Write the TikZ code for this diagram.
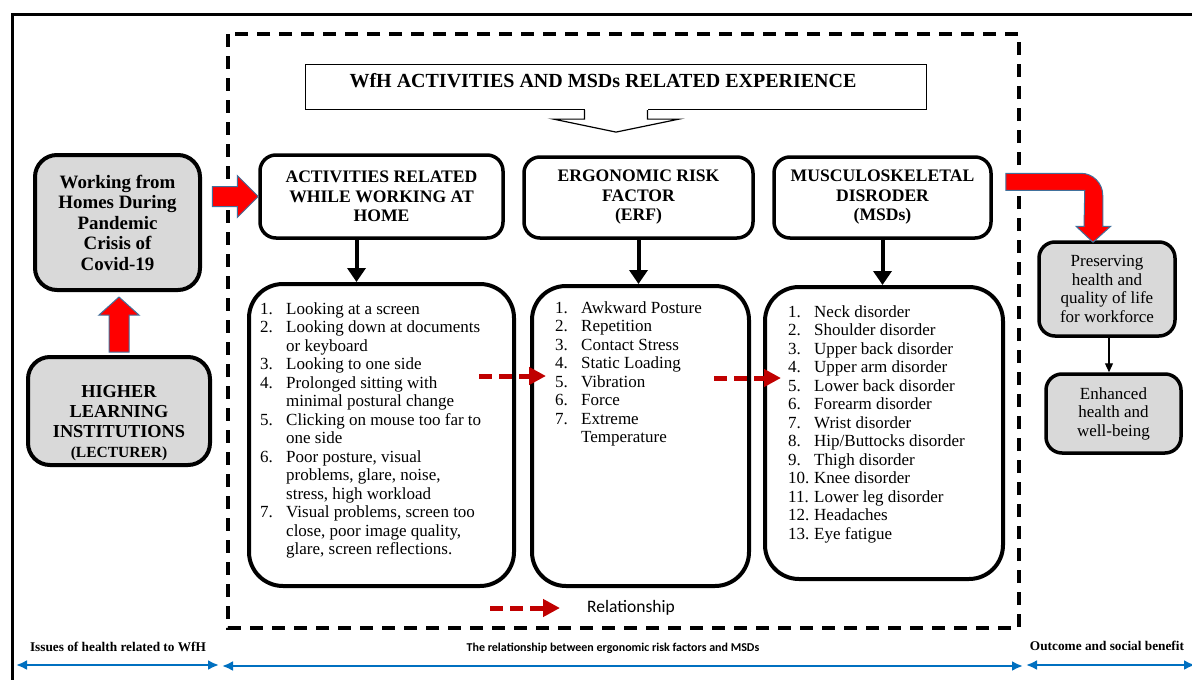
\documentclass[tikz,border=0pt]{standalone}
\usepackage{fontspec}
\setmainfont{Liberation Serif}
\newfontfamily\calibri{Carlito}
\usepackage{tikz}
\usetikzlibrary{arrows.meta}
\usetikzlibrary{calc}
\usetikzlibrary{positioning}

\definecolor{boxgrey}{HTML}{D9D9D9}
\definecolor{arrowedge}{HTML}{41719C}
\definecolor{relred}{HTML}{C00000}
\definecolor{spanblue}{HTML}{0070C0}

\begin{document}
\begin{tikzpicture} [
    x=1pt, y=-1pt,
    head/.style = {draw, line width=3.5pt, rounded corners=16pt, align=center, inner sep=0pt,
        font=\bfseries\fontsize{17.6}{19.5}\selectfont},
    greybox/.style = {draw, fill=boxgrey, line width=4pt, rounded corners=22pt, align=center, inner sep=0pt},
    listbox/.style = {draw, line width=4pt, rounded corners=34pt},
    listtext/.style = {font=\fontsize{17}{18.5}\selectfont, inner sep=0pt},
    bigarrow/.style = {fill=red, draw=arrowedge, line width=1pt, line join=miter},
    down/.style = {line width=4pt, -{Triangle[length=14pt,width=18pt]}},
    relarrow/.style = {draw=relred, line width=5pt, dash pattern=on 13pt off 7pt, -{Triangle[length=17pt,width=17pt]}},
    span/.style = {draw=spanblue, line width=2.5pt, {Latex[length=11pt,width=10pt]}-{Latex[length=11pt,width=10pt]}},
    spanlabel/.style = {font=\bfseries\fontsize{13.3}{15}\selectfont}
]
    \useasboundingbox (0,0) rectangle (1192,680);
    \clip (0,0) rectangle (1192,680);

    % frames
    \draw[line width=3pt] (12,14) rectangle (1230,720);
    \draw[line width=3.5pt, dash pattern=on 13pt off 9pt] (228,34) rectangle (1019,628);

    % title callout
    \node[draw, line width=1.2pt, minimum width=621pt, minimum height=45pt, text height=13pt, text depth=12pt,
        font=\bfseries\fontsize{20}{22}\selectfont] (title) at (616,87) {WfH ACTIVITIES AND MSDs RELATED EXPERIENCE\hspace*{26pt}};
    \fill[white] ($(title.south)+(-31.5,-2)$) rectangle ($(title.south)+(31.5,9)$);
    \draw[line width=1.2pt, line join=miter] ($(title.south)+(-31.5,0)$) -- ++(0,9) -- ++(-31,0)
        -- ($(title.south)+(0,22)$) -- ($(title.south)+(63,9)$) -- ++(-31.5,0) -- ++(0,-9);

    % left column
    \node[greybox, minimum width=165pt, minimum height=135pt, font=\bfseries\fontsize{18.9}{20.5}\selectfont]
        (work) at (117.5,222.5) {Working from\\Homes During\\Pandemic\\Crisis of\\Covid-19};
    \node[greybox, minimum width=182pt, minimum height=108pt] (hli) at (119,411) {};
    \node[align=center, inner sep=0pt, font=\bfseries\fontsize{18.3}{20}\selectfont] (hlitext) at ($(hli)+(0,12)$)
        {HIGHER\\LEARNING\\INSTITUTIONS\\{\fontsize{15.5}{20.5}\selectfont (LECTURER)}};

    % headers
    \node[head, minimum width=243pt, minimum height=83pt] (act) at (381.5,196.5) {ACTIVITIES RELATED\\WHILE WORKING AT\\HOME};
    \node[head, minimum width=229pt, minimum height=81pt] (erf) at (638.5,197.5) {ERGONOMIC RISK\\FACTOR\\(ERF)};
    \node[head, minimum width=217pt, minimum height=81pt] (msd) at (882.5,197.5) {MUSCULOSKELETAL\\DISRODER\\(MSDs)};

    % lists
    \node[listbox, minimum width=265pt, minimum height=302pt] (actl) at (381.5,435) {};
    \node[listbox, minimum width=217pt, minimum height=300pt] (erfl) at (640.5,436) {};
    \node[listbox, minimum width=238pt, minimum height=292pt] (msdl) at (884,433) {};

    \node[listtext, below right=19pt and 13pt of actl.north west] (actitems) {%
        \begin{tabular}{@{}p{26pt}@{}l@{}}
        1. & Looking at a screen\\
        2. & Looking down at documents\\
           & or keyboard\\
        3. & Looking to one side\\
        4. & Prolonged sitting with\\
           & minimal postural change\\
        5. & Clicking on mouse too far to\\
           & one side\\
        6. & Poor posture, visual\\
           & problems, glare, noise,\\
           & stress, high workload\\
        7. & Visual problems, screen too\\
           & close, poor image quality,\\
           & glare, screen reflections.
        \end{tabular}};
    \node[listtext, below right=16pt and 25pt of erfl.north west] (erfitems) {%
        \begin{tabular}{@{}p{26pt}@{}l@{}}
        1. & Awkward Posture\\
        2. & Repetition\\
        3. & Contact Stress\\
        4. & Static Loading\\
        5. & Vibration\\
        6. & Force\\
        7. & Extreme\\
           & Temperature
        \end{tabular}};
    \node[listtext, below right=19pt and 25pt of msdl.north west] (msditems) {%
        \begin{tabular}{@{}p{26pt}@{}l@{}}
        1. & Neck disorder\\
        2. & Shoulder disorder\\
        3. & Upper back disorder\\
        4. & Upper arm disorder\\
        5. & Lower back disorder\\
        6. & Forearm disorder\\
        7. & Wrist disorder\\
        8. & Hip/Buttocks disorder\\
        9. & Thigh disorder\\
        10. & Knee disorder\\
        11. & Lower leg disorder\\
        12. & Headaches\\
        13. & Eye fatigue
        \end{tabular}};

    % right column
    \node[greybox, line width=3.5pt, rounded corners=16pt, minimum width=136pt, minimum height=94pt,
        font=\fontsize{17}{18.5}\selectfont] (pres) at (1107,289) {Preserving\\health and\\quality of life\\for workforce};
    \node[greybox, line width=3.5pt, rounded corners=16pt, minimum width=135pt, minimum height=79pt,
        font=\fontsize{17}{18.5}\selectfont] (enh) at (1113.5,413.5) {Enhanced\\health and\\well-being};

    % connectors
    \filldraw[bigarrow] (act.west) -- ++(-21,-21) -- ++(0,11) -- ++(-25,0) -- ++(0,20) -- ++(25,0) -- ++(0,11) -- cycle;
    \filldraw[bigarrow] ($(hli.north)+(-10,-3)$) -- ++(0,-37) -- ++(-10,0) -- ++(20,-18) -- ++(20,18) -- ++(-10,0) -- ++(0,37) -- cycle;
    \coordinate (bend0) at ($(msd.north east)+(13,18)$);
    \filldraw[bigarrow] (bend0) -- ++(75,0) arc[start angle=-90, end angle=0, radius=22] -- ++(0,31) -- ++(8,0)
        -- ($(pres.north)+(-14,2)$) -- ++(-17,-16) -- ++(8,0) -- ($(bend0)+(79,17)$) -- ($(bend0)+(0,17)$) -- cycle;

    \draw[down] ($(act.south)+(-25,0)$) -- ($(actl.north)+(-25,0)$);
    \draw[down] (erf.south) -- (erf.south |- erfl.north);
    \draw[down] (msd.south) -- (msd.south |- msdl.north);
    \draw[-{Triangle[length=9pt,width=8pt]}, line width=1.2pt] ($(pres.south)+(2,0)$) -- ($(pres.south |- enh.north)+(2,0)$);

    \draw[relarrow] ($(actl.east)+(-37,-59)$) -- ($(erfl.west)+(16,-60)$);
    \draw[relarrow] ($(erfl.east)+(-37,-58)$) -- ($(msdl.west)+(18,-55)$);

    % legend
    \coordinate (lg) at (490,608);
    \draw[relarrow] (lg) -- ++(70,0) coordinate (lgend);
    \node[right=27pt of lgend, inner sep=0pt, font=\calibri\fontsize{17.5}{20}\selectfont] (lgtext) {Relationship};

    % spans
    \coordinate (s0) at (16,665);
    \coordinate (s1) at (219,665);
    \coordinate (s2) at (222,666);
    \coordinate (s3) at (1023,666);
    \coordinate (s4) at (1026,665);
    \coordinate (s5) at (1195,665);
    \draw[span] (s0) -- (s1);
    \draw[span] (s2) -- (s3);
    \draw[span] (s4) -- (s5);
    \node[spanlabel] (issues) at (118,647) {Issues of health related to WfH};
    \node[spanlabel, font=\calibri\bfseries\fontsize{12}{14}\selectfont] (relspan) at (613,648) {The relationship between ergonomic risk factors and MSDs};
    \node[spanlabel] (outcome) at (1107,646) {Outcome and social benefit};
\end{tikzpicture}
\end{document}
